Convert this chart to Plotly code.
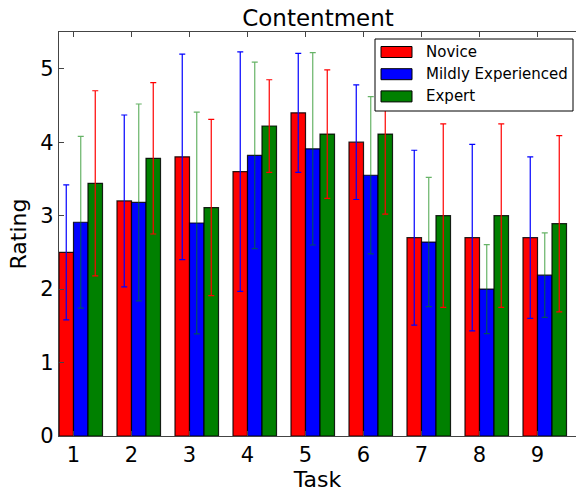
import plotly.graph_objects as go

tasks = ["1", "2", "3", "4", "5", "6", "7", "8", "9"]
series_names = ["Novice", "Mildly Experienced", "Expert"]

novice = [2.5, 3.2, 3.8, 3.6, 4.4, 4.0, 2.7, 2.7, 2.7]
mildly = [2.91, 3.18, 2.9, 3.82, 3.91, 3.55, 2.64, 2.0, 2.19]
expert = [3.44, 3.78, 3.11, 4.22, 4.11, 4.11, 3.0, 3.0, 2.89]

novice_err = [0.92, 1.17, 1.40, 1.63, 0.81, 0.78, 1.19, 1.27, 1.10]
mildly_err = [1.17, 1.34, 1.51, 1.27, 1.31, 1.07, 0.88, 0.605, 0.575]
expert_err = [1.26, 1.03, 1.20, 0.63, 0.875, 1.09, 1.25, 1.25, 1.20]

bar_colors = ["#ff0000", "#0000ff", "#008000"]
# error bar colours cycle independently of the bar colours
err_colors = ["#0000ff", "rgba(0,128,0,0.6)", "#ff0000"]

FONT = "DejaVu Sans"
width = 0.25

# plot-area geometry (pixels)
W, H = 576, 495
L, R, T, B = 59, 576, 32, 436
x_max = (R - L) / 58.0

fig = go.Figure()
values = [novice, mildly, expert]
errors = [novice_err, mildly_err, expert_err]
for s, (name, vals, errs) in enumerate(zip(series_names, values, errors)):
    xs = [k + width * s + width / 2 for k in range(len(tasks))]
    fig.add_trace(go.Bar(
        x=xs, y=vals, width=width, name=name,
        marker=dict(color=bar_colors[s], line=dict(color="rgba(0,0,0,0.85)", width=1.2)),
        error_y=dict(type="data", array=errs, visible=True,
                     color=err_colors[s], thickness=1.2, width=3),
        showlegend=False,
    ))

fig.update_layout(
    width=W, height=H,
    margin=dict(l=L, r=W - R, t=T, b=H - B),
    plot_bgcolor="white", paper_bgcolor="white",
    barmode="overlay",
    font=dict(family=FONT, color="black", size=21),
    title=dict(text="Contentment", font=dict(size=23, family=FONT),
               x=318 / W, xanchor="center", xref="container",
               y=1 - 18 / H, yanchor="middle", yref="container"),
    xaxis=dict(range=[0, x_max], tickvals=[k + width for k in range(len(tasks))],
               ticktext=tasks, ticks="inside", ticklen=5, tickcolor="#444",
               showline=True, linecolor="#444", linewidth=1.3, mirror="ticks",
               showgrid=False, zeroline=False, tickfont=dict(size=21),
               title=dict(text="Task", font=dict(size=22), standoff=5)),
    yaxis=dict(range=[0, 5.5], tickvals=[0, 1, 2, 3, 4, 5],
               ticks="inside", ticklen=5, tickcolor="#444",
               showline=True, linecolor="#444", linewidth=1.3, mirror=False,
               showgrid=False, zeroline=False, tickfont=dict(size=21),
               title=dict(text="Rating", font=dict(size=22), standoff=7)),
)


def px_x(p):
    return (p - L) / (R - L)


def px_y(p):
    return (B - p) / (B - T)


# legend box
fig.add_shape(type="rect", xref="paper", yref="paper",
              x0=px_x(375), x1=px_x(573), y0=px_y(111), y1=px_y(39),
              fillcolor="white", line=dict(color="black", width=1), layer="above")
for s, name in enumerate(series_names):
    cy = 52 + 22.2 * s
    fig.add_shape(type="rect", xref="paper", yref="paper",
                  x0=px_x(381), x1=px_x(412), y0=px_y(cy + 5.5), y1=px_y(cy - 5.5),
                  fillcolor=bar_colors[s], line=dict(color="black", width=1), layer="above")
    fig.add_annotation(x=px_x(424), y=px_y(cy), xref="paper", yref="paper",
                       text=name, showarrow=False, xanchor="left", yanchor="middle",
                       font=dict(size=15, family=FONT, color="black"))

fig.write_html("out.html")
